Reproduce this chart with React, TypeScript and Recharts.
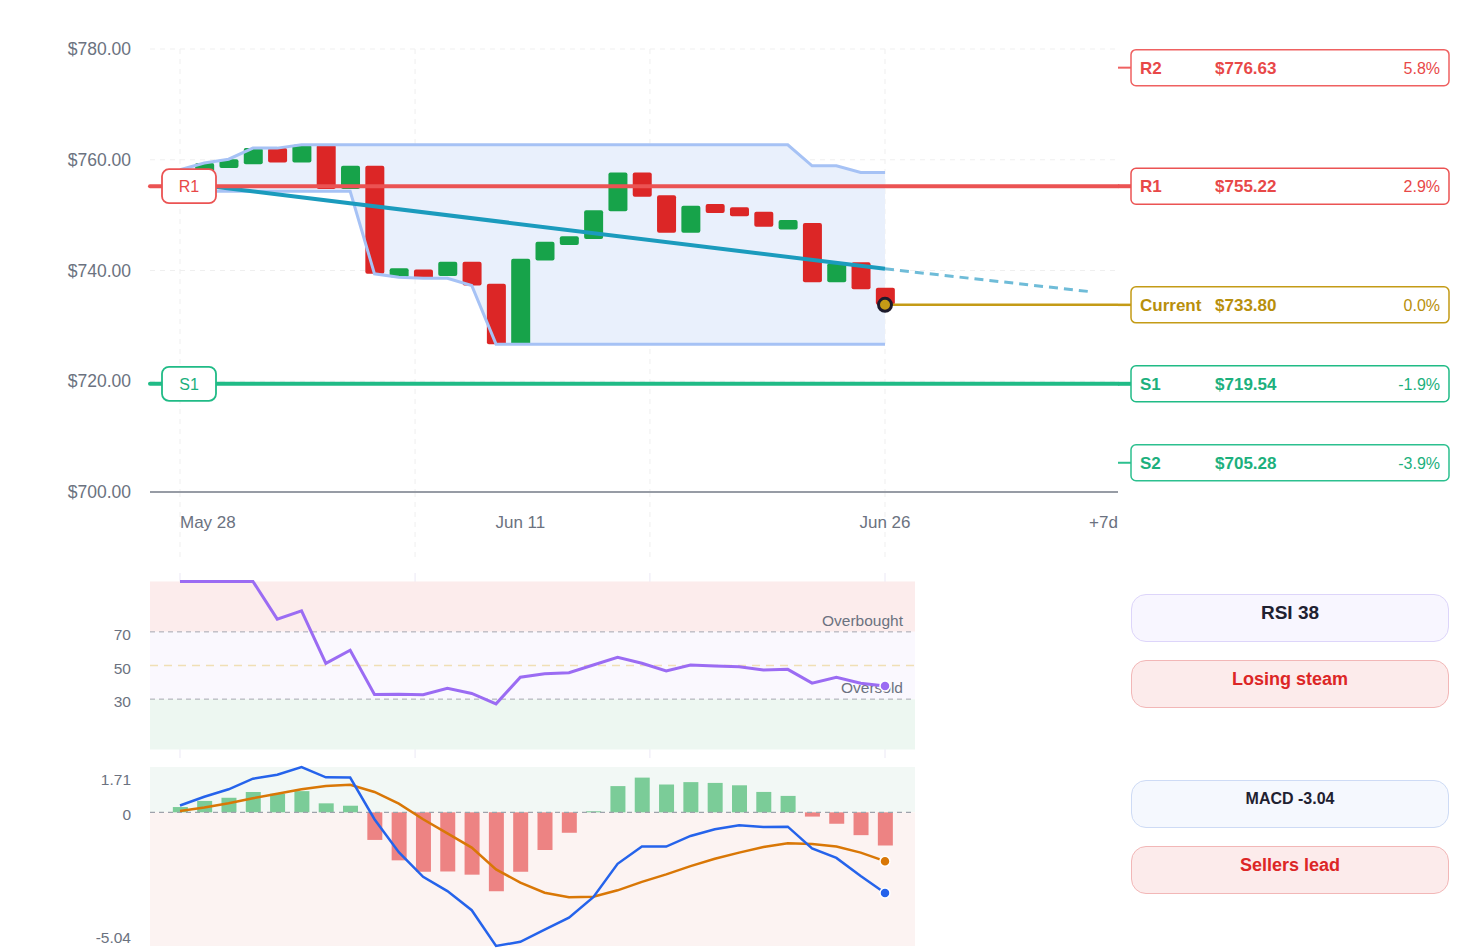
import React from "react";
import {
  ComposedChart,
  LineChart,
  Bar,
  Line,
  Area,
  XAxis,
  YAxis,
  CartesianGrid,
  ReferenceLine,
  ReferenceArea,
  ReferenceDot,
  Cell,
} from "recharts";

// ---- data ----
const days = [
  0, 1, 2, 3, 4, 5, 6, 7, 8, 9, 10, 11, 12, 13, 14, 15, 16, 17, 18, 19, 20,
  21, 22, 23, 24, 25, 26, 27, 28, 29,
];
const opens = [
  754.3, 757.9, 758.5, 759.2, 762.1, 759.5, 762.7, 754.7, 758.9, 738.8, 740.2,
  739.0, 741.6, 737.6, 726.7, 741.8, 744.6, 745.7, 750.7, 757.7, 753.6, 746.8,
  752.0, 751.4, 750.6, 747.4, 748.6, 737.9, 741.5, 736.9,
];
const closes = [
  758.2, 759.4, 760.1, 762.1, 759.5, 762.7, 754.7, 758.9, 739.4, 740.4, 738.6,
  741.6, 737.3, 726.7, 742.1, 745.2, 746.2, 750.9, 757.7, 753.3, 746.8, 751.7,
  750.4, 749.8, 747.9, 749.1, 737.9, 741.3, 736.6, 733.8,
];
const upperBand = [
  758.2, 759.4, 760.1, 762.1, 762.1, 762.7, 762.7, 762.7, 762.7, 762.7, 762.7,
  762.7, 762.7, 762.7, 762.7, 762.7, 762.7, 762.7, 762.7, 762.7, 762.7, 762.7,
  762.7, 762.7, 762.7, 762.7, 758.9, 758.9, 757.7, 757.7,
];
const lowerBand = [
  754.3, 754.3, 754.3, 754.3, 754.3, 754.3, 754.3, 754.3, 739.4, 738.8, 738.6,
  738.6, 737.3, 726.7, 726.7, 726.7, 726.7, 726.7, 726.7, 726.7, 726.7, 726.7,
  726.7, 726.7, 726.7, 726.7, 726.7, 726.7, 726.7, 726.7,
];
const trendDays = [0, 29];
const trendValues = [755.9, 740.3];
const projectionDays = [29, 37.4];
const projectionValues = [740.3, 736.2];

const rsiValues = [
  100, 100, 100, 100, 77.6, 82.5, 51.3, 59.1, 32.8, 32.9, 32.6, 36.4, 33.4,
  27.2, 43, 45.1, 45.7, 50.3, 54.9, 51.3, 46.7, 50.3, 49.7, 49.3, 47.3, 47.7,
  39.5, 43, 39.4, 37.8,
];
const macdValues = [
  0.26, 0.59, 0.87, 1.27, 1.42, 1.71, 1.32, 1.31, -0.26, -1.5, -2.43, -2.97,
  -3.69, -5.04, -4.88, -4.42, -3.97, -3.2, -1.94, -1.29, -1.29, -0.89, -0.64,
  -0.49, -0.55, -0.54, -1.36, -1.72, -2.4, -3.04,
];
const signalValues = [
  0.05, 0.18, 0.34, 0.53, 0.7, 0.87, 0.99, 1.04, 0.77, 0.33, -0.26, -0.79,
  -1.33, -2.15, -2.65, -3.03, -3.2, -3.18, -2.94, -2.62, -2.34, -2.03, -1.75,
  -1.52, -1.31, -1.17, -1.19, -1.29, -1.52, -1.84,
];
const histValues = [
  0.2, 0.43, 0.55, 0.77, 0.7, 0.8, 0.34, 0.25, -1.04, -1.81, -2.24, -2.23,
  -2.35, -2.98, -2.24, -1.42, -0.77, 0.04, 0.99, 1.31, 1.05, 1.14, 1.11, 1.02,
  0.77, 0.62, -0.16, -0.43, -0.86, -1.25,
];

const levelNames = ["R2", "R1", "Current", "S1", "S2"];
const levelPrices = [776.63, 755.22, 733.8, 719.54, 705.28];
const levelPcts = ["5.8%", "2.9%", "0.0%", "-1.9%", "-3.9%"];

const xTickDays = [0, 14, 29, 38.58];
const xTickLabels = ["May 28", "Jun 11", "Jun 26", "+7d"];
const gridDays = [0, 9.67, 19.33, 29];
const priceTicks = [700, 720, 740, 760, 780];
const rsiTicks = [30, 50, 70];
const macdTicks = [-5.04, 0, 1.71];

// ---- styling ----
const GREEN = "#17a34a";
const RED = "#dc2626";
const MUTED = "#6b7280";
const FONT = "'Liberation Sans', Arial, Helvetica, sans-serif";
const LEVEL_STYLE: Record<string, { line: string; text: string; w: number }> = {
  R2: { line: "#ef6161", text: "#e84848", w: 2 },
  R1: { line: "#eb5353", text: "#e84848", w: 4 },
  Current: { line: "#c49b16", text: "#b88f0c", w: 2.5 },
  S1: { line: "#20bb86", text: "#1cb07d", w: 4 },
  S2: { line: "#2cc08f", text: "#1cb07d", w: 2 },
};

const candleRows = days.map((d, i) => ({
  day: d,
  open: opens[i],
  close: closes[i],
  body: [Math.min(opens[i], closes[i]), Math.max(opens[i], closes[i])],
  upper: upperBand[i],
  lower: lowerBand[i],
  band: [lowerBand[i], upperBand[i]],
  trend: trendDays.includes(d) ? trendValues[trendDays.indexOf(d)] : null,
}));
const projectionRows = projectionDays.map((d, i) => ({
  day: d,
  proj: projectionValues[i],
}));
const rsiRows = days.map((d, i) => ({ day: d, rsi: rsiValues[i] }));
const macdRows = days.map((d, i) => ({
  day: d,
  macd: macdValues[i],
  signal: signalValues[i],
  hist: histValues[i],
}));

const MAIN_DOMAIN: [number, number] = [-1.234, 38.584];
const SUB_DOMAIN: [number, number] = [-1.234, 30.234];

function Candle(props: any) {
  const { x, width, payload } = props;
  let { y, height } = props;
  if (height < 0) {
    y += height;
    height = -height;
  }
  const up = payload.close >= payload.open;
  return (
    <rect
      x={x}
      y={y}
      width={width}
      height={Math.max(height, 2)}
      rx={2}
      fill={up ? GREEN : RED}
    />
  );
}

function LevelTag(props: any) {
  const { viewBox, idx } = props;
  const name = levelNames[idx];
  const st = LEVEL_STYLE[name];
  const right = viewBox.x + viewBox.width;
  const y = viewBox.y;
  const bx = right + 13;
  const showLeft = name === "R1" || name === "S1";
  return (
    <g>
      {showLeft && (
        <g>
          <rect
            x={viewBox.x + 12}
            y={y - 17}
            width={54}
            height={34}
            rx={7}
            fill="#fff"
            stroke={st.line}
            strokeWidth={1.8}
          />
          <text
            x={viewBox.x + 39}
            y={y + 6}
            textAnchor="middle"
            fontSize={16}
            fill={st.text}
          >
            {name}
          </text>
        </g>
      )}
      <line x1={right} x2={bx} y1={y} y2={y} stroke={st.line} strokeWidth={st.w} />
      <rect
        x={bx}
        y={y - 18}
        width={318}
        height={36}
        rx={5}
        fill="#fff"
        stroke={st.line}
        strokeWidth={1.5}
      />
      <text x={bx + 9} y={y + 6} fontSize={17} fontWeight={700} fill={st.text}>
        {name}
      </text>
      <text x={bx + 84} y={y + 6} fontSize={17} fontWeight={700} fill={st.text}>
        ${levelPrices[idx].toFixed(2)}
      </text>
      <text x={bx + 309} y={y + 6} fontSize={16} textAnchor="end" fill={st.text}>
        {levelPcts[idx]}
      </text>
    </g>
  );
}

// vertical grid positions from the plot offset and the x domain
const gridGen = (domain: [number, number]) => (args: any) => {
  const off = args?.offset ?? {};
  const left = off.left ?? 150;
  const w = off.width ?? args?.width ?? 0;
  return gridDays.map((d) => left + ((d - domain[0]) / (domain[1] - domain[0])) * w);
};

const lastDot = (color: string, r: number) => (p: any) =>
  p.index === days.length - 1 ? (
    <circle key={`d${p.index}`} cx={p.cx} cy={p.cy} r={r} fill={color} stroke="#fff" strokeWidth={1.5} />
  ) : (
    <g key={`d${p.index}`} />
  );

function PriceChart() {
  return (
    <ComposedChart
      width={1461}
      height={560}
      data={candleRows}
      margin={{ top: 49, right: 343, bottom: 38, left: 0 }}
    >
      <CartesianGrid
        stroke="#efefef"
        strokeDasharray="5 5"
        verticalCoordinatesGenerator={gridGen(MAIN_DOMAIN)}
      />
      <XAxis
        dataKey="day"
        type="number"
        domain={MAIN_DOMAIN}
        allowDataOverflow
        ticks={xTickDays}
        interval={0}
        axisLine={{ stroke: "#979ca5", strokeWidth: 2 }}
        tickLine={false}
        tick={(p: any) => {
          const i = xTickDays.indexOf(p.payload.value);
          const anchor = i === 0 ? "start" : i === xTickDays.length - 1 ? "end" : "middle";
          return (
            <text x={p.x} y={528} textAnchor={anchor} fontSize={17} fill={MUTED}>
              {xTickLabels[i]}
            </text>
          );
        }}
      />
      <YAxis
        domain={[700, 780]}
        ticks={priceTicks}
        interval={0}
        width={150}
        axisLine={false}
        tickLine={false}
        tick={(p: any) => (
          <text x={131} y={p.y + 6} textAnchor="end" fontSize={17.5} fill={MUTED}>
            ${Number(p.payload.value).toFixed(2)}
          </text>
        )}
      />
      {gridDays.map((d) => (
        <ReferenceLine
          key={`g${d}`}
          segment={[
            { x: d, y: 700 },
            { x: d, y: 687 },
          ]}
          ifOverflow="visible"
          stroke="#efefef"
          strokeDasharray="5 5"
        />
      ))}
      <Area
        dataKey="band"
        stroke="none"
        fill="#e9f0fc"
        fillOpacity={1}
        isAnimationActive={false}
      />
      <Line dataKey="upper" stroke="#a6c2f5" strokeWidth={3} dot={false} isAnimationActive={false} />
      <Line dataKey="lower" stroke="#a6c2f5" strokeWidth={3} dot={false} isAnimationActive={false} />
      <Bar dataKey="body" barSize={19} shape={<Candle />} isAnimationActive={false} />
      <Line
        dataKey="trend"
        connectNulls
        stroke="#1b9bbd"
        strokeWidth={4}
        dot={false}
        isAnimationActive={false}
      />
      <Line
        data={projectionRows}
        dataKey="proj"
        stroke="#6fbcd8"
        strokeWidth={3}
        strokeDasharray="9 6"
        dot={false}
        isAnimationActive={false}
      />
      {levelNames.map((n, i) => (
        <ReferenceLine
          key={n}
          y={levelPrices[i]}
          stroke={n === "R1" || n === "S1" ? LEVEL_STYLE[n].line : "none"}
          strokeWidth={4}
          strokeLinecap="round"
          label={(p: any) => <LevelTag {...p} idx={i} />}
        />
      ))}
      <ReferenceLine
        segment={[
          { x: 29, y: levelPrices[2] },
          { x: MAIN_DOMAIN[1], y: levelPrices[2] },
        ]}
        stroke={LEVEL_STYLE.Current.line}
        strokeWidth={2.5}
      />
      <ReferenceDot
        x={29}
        y={levelPrices[2]}
        r={6.5}
        fill="#c49b16"
        stroke="#1d1b2c"
        strokeWidth={3}
      />
    </ComposedChart>
  );
}

function RsiChart() {
  return (
    <LineChart
      width={1461}
      height={205}
      data={rsiRows}
      margin={{ top: 13, right: 546, bottom: 7, left: 0 }}
    >
      <CartesianGrid
        horizontal={false}
        stroke="#ebe8f5"
        verticalCoordinatesGenerator={gridGen(SUB_DOMAIN)}
      />
      <XAxis dataKey="day" type="number" domain={SUB_DOMAIN} allowDataOverflow hide />
      <YAxis
        domain={[-5, 105]}
        ticks={rsiTicks}
        interval={0}
        width={150}
        axisLine={false}
        tickLine={false}
        tick={(p: any) => (
          <text x={131} y={p.y + 8} textAnchor="end" fontSize={15.5} fill={MUTED}>
            {p.payload.value}
          </text>
        )}
      />
      <ReferenceArea y1={70} y2={100} fill="#fcecec" fillOpacity={1} stroke="none" />
      <ReferenceArea y1={30} y2={70} fill="#faf8fe" fillOpacity={1} stroke="none" />
      <ReferenceArea y1={0} y2={30} fill="#edf7f1" fillOpacity={1} stroke="none" />
      <ReferenceLine y={50} stroke="#f0dfb5" strokeWidth={1.5} strokeDasharray="8 6" />
      <ReferenceLine
        y={70}
        stroke="#a5a7b0"
        strokeDasharray="5 4"
        label={(p: any) => (
          <text
            x={p.viewBox.x + p.viewBox.width - 12}
            y={p.viewBox.y - 6}
            textAnchor="end"
            fontSize={15.5}
            fill={MUTED}
          >
            Overbought
          </text>
        )}
      />
      <ReferenceLine
        y={30}
        stroke="#a5a7b0"
        strokeDasharray="5 4"
        label={(p: any) => (
          <text
            x={p.viewBox.x + p.viewBox.width - 12}
            y={p.viewBox.y - 6}
            textAnchor="end"
            fontSize={15.5}
            fill={MUTED}
          >
            Oversold
          </text>
        )}
      />
      <Line
        dataKey="rsi"
        stroke="#9b6cf3"
        strokeWidth={3}
        dot={lastDot("#9b6cf3", 5)}
        isAnimationActive={false}
      />
    </LineChart>
  );
}

function MacdChart() {
  const shift: Record<string, number> = { "1.71": 17.5, "0": 7.5, "-5.04": -3 };
  return (
    <ComposedChart
      width={1461}
      height={188}
      data={macdRows}
      margin={{ top: 7, right: 546, bottom: 2, left: 0 }}
    >
      <XAxis dataKey="day" type="number" domain={SUB_DOMAIN} allowDataOverflow hide />
      <YAxis
        domain={[-5.04, 1.71]}
        ticks={macdTicks}
        interval={0}
        width={150}
        axisLine={false}
        tickLine={false}
        tick={(p: any) => (
          <text
            x={131}
            y={p.y + (shift[String(p.payload.value)] ?? 5)}
            textAnchor="end"
            fontSize={15.5}
            fill={MUTED}
          >
            {p.payload.value}
          </text>
        )}
      />
      <ReferenceArea y1={0} y2={1.71} fill="#f2f8f5" fillOpacity={1} stroke="none" />
      <ReferenceArea y1={-5.04} y2={0} fill="#fcf3f2" fillOpacity={1} stroke="none" />
      <ReferenceLine y={0} stroke="#9ea2ab" strokeDasharray="5 4" strokeWidth={1.2} />
      <Bar dataKey="hist" barSize={15} isAnimationActive={false}>
        {histValues.map((v, i) => (
          <Cell key={i} fill={v >= 0 ? "#7bcc98" : "#ed8383"} />
        ))}
      </Bar>
      <Line
        dataKey="signal"
        stroke="#d97706"
        strokeWidth={2.5}
        dot={lastDot("#d97706", 5)}
        isAnimationActive={false}
      />
      <Line
        dataKey="macd"
        stroke="#2563eb"
        strokeWidth={2.5}
        dot={lastDot("#2563eb", 5)}
        isAnimationActive={false}
      />
    </ComposedChart>
  );
}

function Pill({
  top,
  text,
  bg,
  border,
  color,
  size,
}: {
  top: number;
  text: string;
  bg: string;
  border: string;
  color: string;
  size: number;
}) {
  return (
    <div
      style={{
        position: "absolute",
        left: 1131,
        top,
        width: 318,
        height: 48,
        boxSizing: "border-box",
        border: `1.5px solid ${border}`,
        borderRadius: 15,
        background: bg,
        color,
        fontSize: size,
        fontWeight: 700,
        textAlign: "center",
        paddingTop: 6,
        lineHeight: "24px",
      }}
    >
      {text}
    </div>
  );
}

export default function App() {
  return (
    <div
      style={{
        position: "absolute",
        left: 0,
        top: 0,
        width: 1461,
        height: 948,
        overflow: "hidden",
        background: "#fff",
        fontFamily: FONT,
      }}
    >
      <div style={{ position: "absolute", left: 0, top: 0 }}>
        <PriceChart />
      </div>
      <div style={{ position: "absolute", left: 0, top: 560 }}>
        <RsiChart />
      </div>
      <div style={{ position: "absolute", left: 0, top: 760 }}>
        <MacdChart />
      </div>
      <Pill top={594} text="RSI 38" bg="#f8f6ff" border="#ddd5fa" color="#1f2131" size={19} />
      <Pill top={660} text="Losing steam" bg="#fcebeb" border="#f2b7b7" color="#dc2626" size={18} />
      <Pill top={780} text="MACD -3.04" bg="#f5f8fe" border="#cedbf5" color="#1f2131" size={16} />
      <Pill top={846} text="Sellers lead" bg="#fcebeb" border="#f2b7b7" color="#dc2626" size={18} />
    </div>
  );
}
